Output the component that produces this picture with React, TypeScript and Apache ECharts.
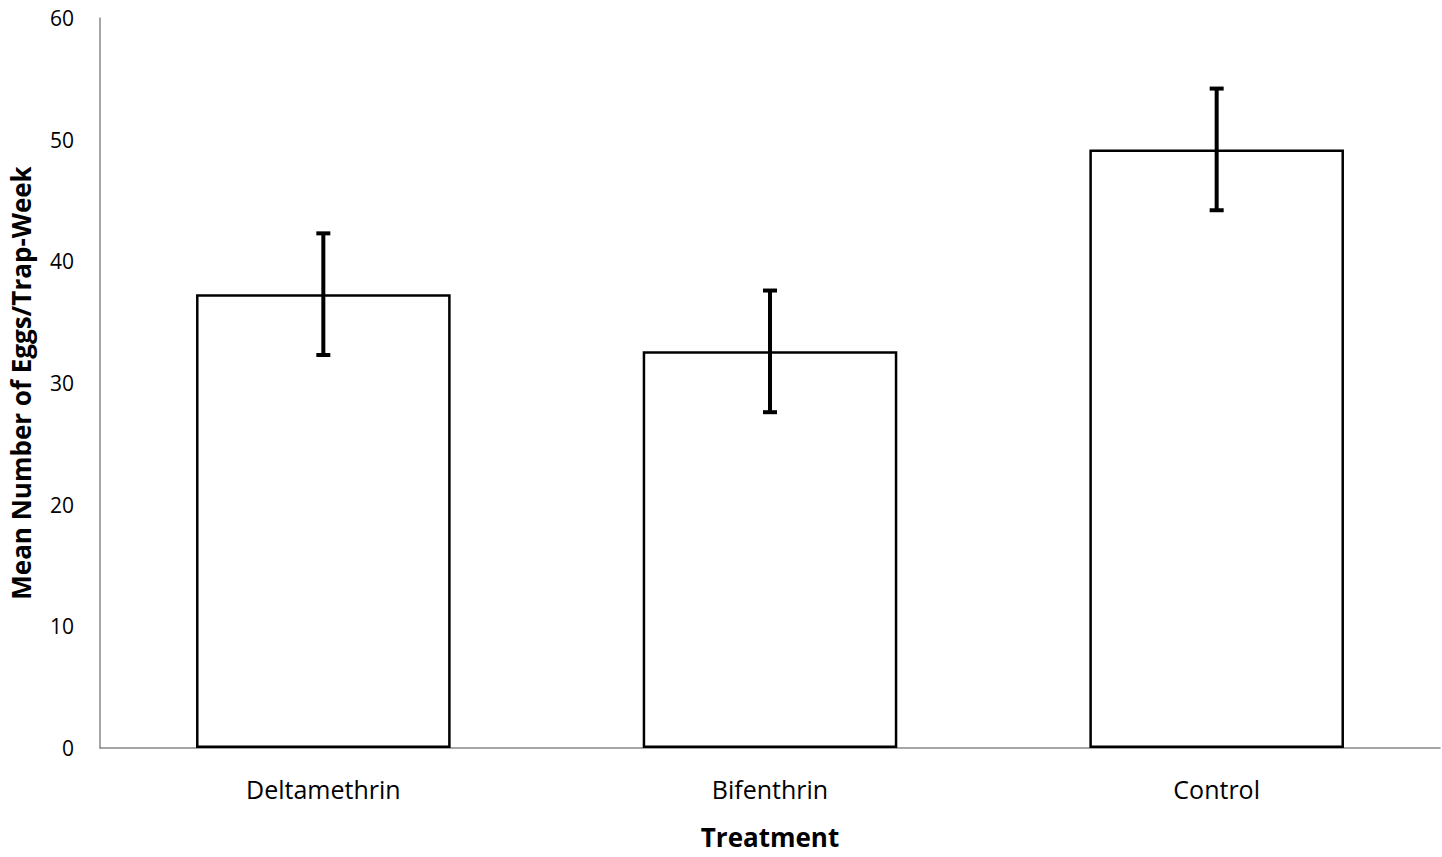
import React, { useEffect, useRef } from "react";
import * as echarts from "echarts";

const categories = ["Deltamethrin", "Bifenthrin", "Control"];
const means = [37.3, 32.6, 49.2];
const errors = [5.0, 5.0, 5.0];

export default function App() {
  const ref = useRef<HTMLDivElement>(null);
  useEffect(() => {
    const chart = echarts.init(ref.current!, null, { renderer: "svg" });
    const font = "'Open Sans', sans-serif";
    chart.setOption({
      animation: false,
      backgroundColor: "#fff",
      grid: { left: 100, right: 2, top: 18, bottom: 109 },
      xAxis: {
        type: "category",
        data: categories,
        name: "Treatment",
        nameLocation: "middle",
        nameGap: 76,
        nameTextStyle: { fontFamily: font, fontSize: 26, fontWeight: "bold", color: "#000" },
        axisLine: { lineStyle: { color: "#888", width: 1.5 } },
        axisTick: { show: false },
        axisLabel: { fontFamily: font, fontSize: 25, color: "#000", margin: 28 },
      },
      yAxis: {
        type: "value",
        min: 0,
        max: 60,
        interval: 10,
        name: "Mean Number of Eggs/Trap-Week",
        nameLocation: "middle",
        nameGap: 66,
        nameTextStyle: { fontFamily: font, fontSize: 26, fontWeight: "bold", color: "#000" },
        axisLine: { show: true, lineStyle: { color: "#888", width: 1.5 } },
        axisTick: { show: false },
        splitLine: { show: false },
        axisLabel: { fontFamily: font, fontSize: 21, color: "#000", margin: 26 },
      },
      series: [
        {
          type: "bar",
          data: means,
          barWidth: "57%",
          itemStyle: { color: "#fff", borderColor: "#000", borderWidth: 2.5 },
        },
        {
          type: "custom",
          data: means.map((m, i) => [i, m - errors[i], m + errors[i]]),
          z: 10,
          renderItem: (params: any, api: any) => {
            const lo = api.coord([api.value(0), api.value(1)]);
            const hi = api.coord([api.value(0), api.value(2)]);
            const c = 7;
            const style = { stroke: "#000", lineWidth: 4 };
            return {
              type: "group",
              children: [
                { type: "line", shape: { x1: hi[0], y1: hi[1], x2: lo[0], y2: lo[1] }, style },
                { type: "line", shape: { x1: hi[0] - c, y1: hi[1], x2: hi[0] + c, y2: hi[1] }, style },
                { type: "line", shape: { x1: lo[0] - c, y1: lo[1], x2: lo[0] + c, y2: lo[1] }, style },
              ],
            };
          },
        },
      ],
    });
    return () => chart.dispose();
  }, []);
  return <div ref={ref} style={{ position: "fixed", left: 0, top: 0, width: 1442, height: 857 }} />;
}
